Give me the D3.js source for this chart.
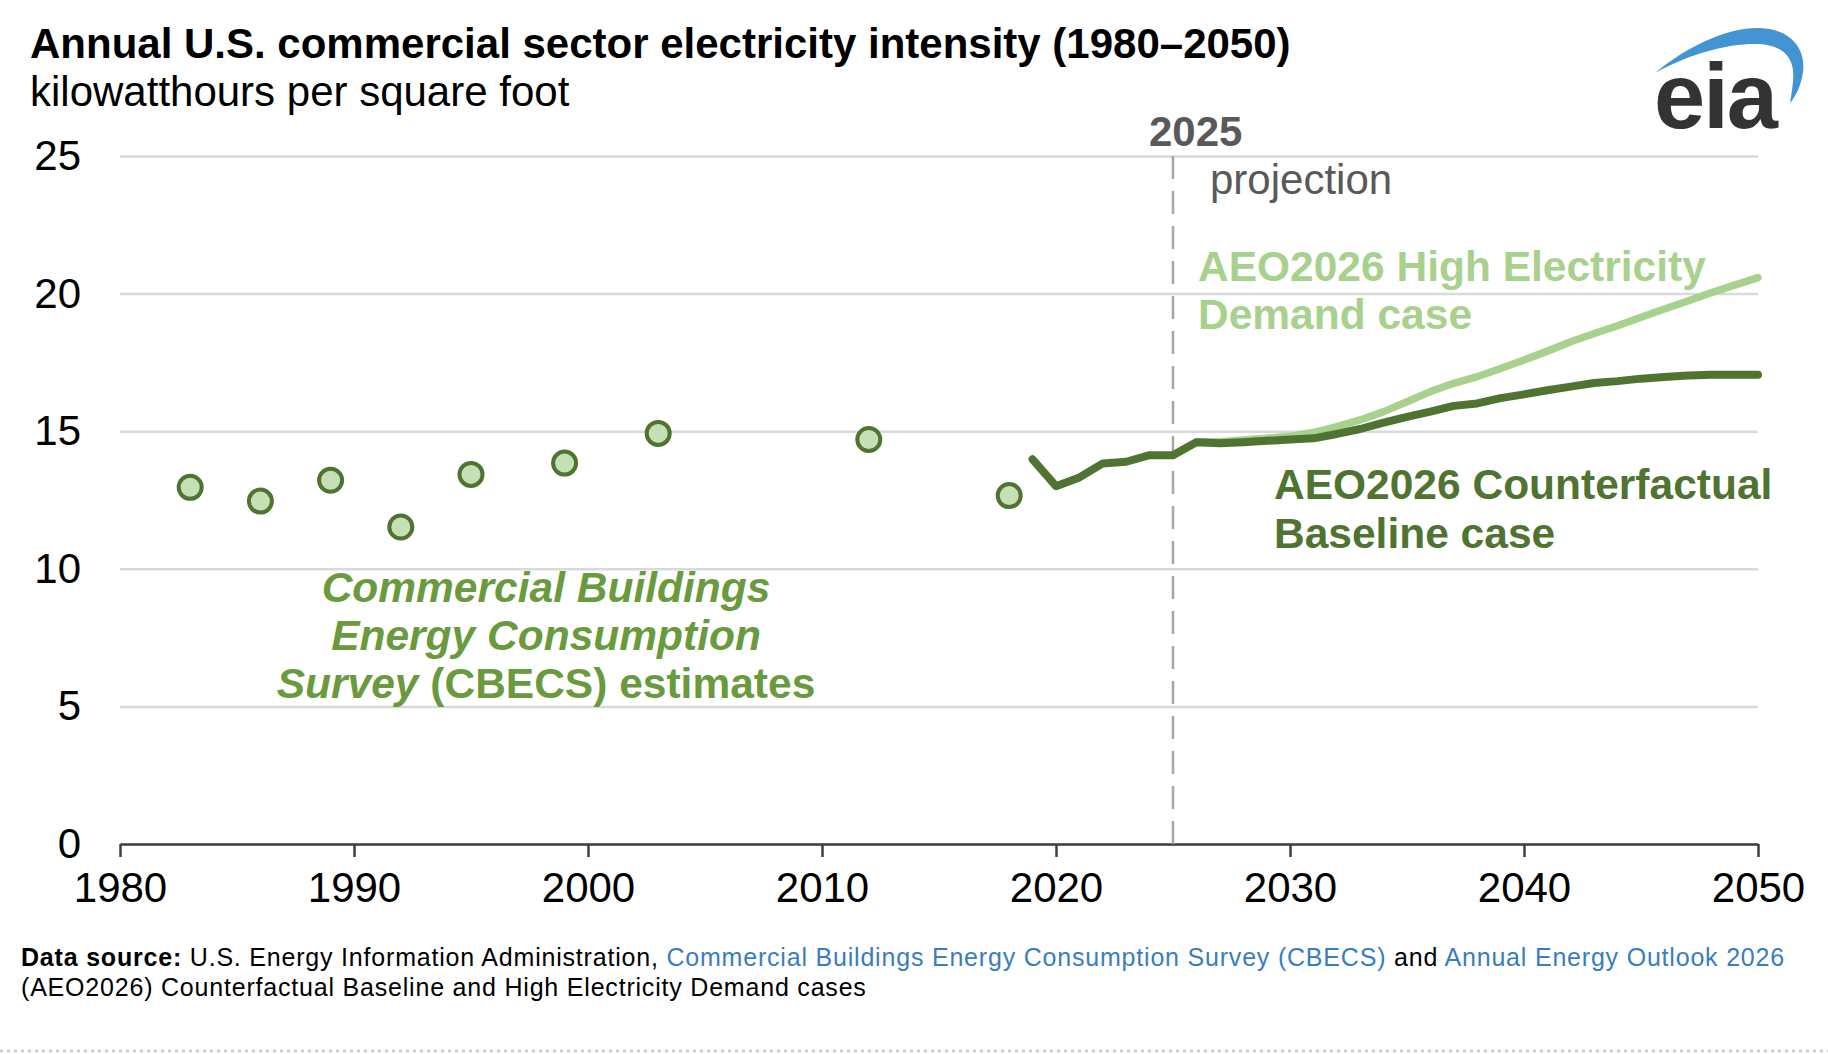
<!DOCTYPE html>
<html>
<head>
<meta charset="utf-8">
<script src="https://cdn.jsdelivr.net/npm/d3@7"></script>
<style>
  body { margin: 0; background: #fff; }
  svg { display: block; font-family: "Liberation Sans", Arial, sans-serif; }
</style>
</head>
<body>
<div id="chart"></div>
<script>
// CBECS survey estimates (points)
var cbecsYears  = [1983, 1986, 1989, 1992, 1995, 1999, 2003, 2012, 2018];
var cbecsValues = [12.96, 12.46, 13.22, 11.52, 13.43, 13.84, 14.92, 14.70, 12.66];

// AEO2026 Counterfactual Baseline case, 2019-2050
var baseYears  = d3.range(2019, 2051);
var baseValues = [13.98, 13.00, 13.32, 13.83, 13.89, 14.13, 14.13, 14.60, 14.56, 14.60,
                  14.65, 14.70, 14.74, 14.90, 15.08, 15.31, 15.52, 15.71, 15.92, 16.01,
                  16.20, 16.34, 16.49, 16.62, 16.75, 16.82, 16.91, 16.97, 17.02, 17.05,
                  17.05, 17.05];

// AEO2026 High Electricity Demand case, 2025-2050
var highYears  = d3.range(2025, 2051);
var highValues = [14.13, 14.62, 14.62, 14.68, 14.74, 14.82, 14.95, 15.17, 15.41, 15.71,
                  16.07, 16.44, 16.74, 16.98, 17.28, 17.59, 17.91, 18.25, 18.55, 18.83,
                  19.14, 19.44, 19.73, 20.03, 20.31, 20.58];

var xTicks = [1980, 1990, 2000, 2010, 2020, 2030, 2040, 2050];
var yTicks = [0, 5, 10, 15, 20, 25];
var projectionYear = 2025;

var W = 1828, H = 1054;
var margin = {top: 156, right: 70, bottom: 210, left: 120};
var width = W - margin.left - margin.right,
    height = H - margin.top - margin.bottom;

var svg = d3.select("#chart").append("svg")
    .attr("width", W)
    .attr("height", H);

// title + units
svg.append("text")
    .attr("x", 30).attr("y", 58)
    .style("font-size", "42px").style("font-weight", "bold").attr("fill", "#000")
    .text("Annual U.S. commercial sector electricity intensity (1980\u20132050)");
svg.append("text")
    .attr("x", 30).attr("y", 106)
    .style("font-size", "42px").attr("fill", "#000")
    .text("kilowatthours per square foot");

// eia logo
var logo = svg.append("g");
logo.append("path")
    .attr("d", "M1655,73 C1690,44 1730,27 1760,28 C1792,29 1806,50 1803,72 C1801,86 1796,96 1790,103 C1792,90 1794,80 1793,70 C1791,54 1779,44 1755,44 C1725,44 1690,54 1655,73 Z")
    .attr("fill", "#4394d3");
logo.append("text")
    .attr("x", 1654).attr("y", 128)
    .style("font-size", "92px").style("font-weight", "bold")
    .style("letter-spacing", "-2px")
    .attr("fill", "#333")
    .text("eia");

var g = svg.append("g")
    .attr("transform", "translate(" + margin.left + "," + margin.top + ")");

var x = d3.scaleLinear().domain([1980, 2050]).range([0, width]);
var y = d3.scaleLinear().domain([0, 25]).range([height, 0]);

// y axis with gridlines
var yAxis = g.append("g")
    .call(d3.axisLeft(y).tickValues(yTicks).tickSize(-width).tickPadding(39));
yAxis.select(".domain").remove();
yAxis.selectAll(".tick line").attr("stroke", "#d9d9d9").attr("stroke-width", 2.5);
yAxis.selectAll(".tick text")
    .style("font-size", "42px").attr("fill", "#000")
    .style("font-family", "'Liberation Sans', Arial, sans-serif");

// x axis
var xAxis = g.append("g")
    .attr("transform", "translate(0," + height + ")")
    .call(d3.axisBottom(x).tickValues(xTicks).tickFormat(d3.format("d")).tickSize(13).tickSizeOuter(0).tickPadding(15));
xAxis.select(".domain").attr("stroke", "#404040").attr("stroke-width", 2.5);
xAxis.selectAll(".tick line").attr("stroke", "#404040").attr("stroke-width", 2.5);
xAxis.selectAll(".tick text")
    .style("font-size", "42px").attr("fill", "#000")
    .style("font-family", "'Liberation Sans', Arial, sans-serif");

// projection divider
g.append("line")
    .attr("x1", x(projectionYear)).attr("x2", x(projectionYear))
    .attr("y1", y(25)).attr("y2", y(0))
    .attr("stroke", "#a6a6a6").attr("stroke-width", 2.5)
    .attr("stroke-dasharray", "23,12");
g.append("text")
    .attr("x", x(projectionYear) - 24).attr("y", 146 - margin.top)
    .style("font-size", "42px").style("font-weight", "bold").attr("fill", "#595959")
    .text("2025");
g.append("text")
    .attr("x", x(projectionYear) + 37).attr("y", 194 - margin.top)
    .style("font-size", "42px").attr("fill", "#595959")
    .text("projection");

var line = d3.line()
    .x(function(d) { return x(d[0]); })
    .y(function(d) { return y(d[1]); });

g.append("path")
    .datum(d3.zip(highYears, highValues))
    .attr("d", line)
    .attr("fill", "none")
    .attr("stroke", "#a9d18e").attr("stroke-width", 7.5)
    .attr("stroke-linecap", "round").attr("stroke-linejoin", "round");

g.append("path")
    .datum(d3.zip(baseYears, baseValues))
    .attr("d", line)
    .attr("fill", "none")
    .attr("stroke", "#4f7331").attr("stroke-width", 8)
    .attr("stroke-linecap", "round").attr("stroke-linejoin", "round");

// survey points
g.append("g")
  .selectAll("circle")
  .data(d3.zip(cbecsYears, cbecsValues))
  .enter()
  .append("circle")
    .attr("cx", function(d) { return x(d[0]); })
    .attr("cy", function(d) { return y(d[1]); })
    .attr("r", 11.5)
    .attr("fill", "#c5e0b4")
    .attr("stroke", "#4f7331")
    .attr("stroke-width", 4);

// series labels
var hi = g.append("text")
    .style("font-size", "42.5px").style("font-weight", "bold").attr("fill", "#a9d18e");
hi.append("tspan").attr("x", 1198 - margin.left).attr("y", 281 - margin.top).text("AEO2026 High Electricity");
hi.append("tspan").attr("x", 1198 - margin.left).attr("y", 329 - margin.top).text("Demand case");

var base = g.append("text")
    .style("font-size", "42.5px").style("font-weight", "bold").attr("fill", "#4f7331");
base.append("tspan").attr("x", 1274 - margin.left).attr("y", 499 - margin.top).text("AEO2026 Counterfactual");
base.append("tspan").attr("x", 1274 - margin.left).attr("y", 548 - margin.top).text("Baseline case");

var cb = g.append("text")
    .attr("text-anchor", "middle")
    .style("font-size", "42.5px").style("font-weight", "bold").attr("fill", "#6a9a3e");
cb.append("tspan").attr("x", 546 - margin.left).attr("y", 602 - margin.top)
    .style("font-style", "italic").text("Commercial Buildings");
cb.append("tspan").attr("x", 546 - margin.left).attr("y", 650 - margin.top)
    .style("font-style", "italic").text("Energy Consumption");
var l3 = cb.append("tspan").attr("x", 546 - margin.left).attr("y", 698 - margin.top);
l3.append("tspan").style("font-style", "italic").text("Survey");
l3.append("tspan").text(" (CBECS) estimates");

// source note
var src = svg.append("text")
    .attr("x", 21).attr("y", 966)
    .style("font-size", "25px").style("letter-spacing", "0.8px").attr("fill", "#000");
src.append("tspan").style("font-weight", "bold").text("Data source:");
src.append("tspan").text(" U.S. Energy Information Administration, ");
src.append("tspan").attr("fill", "#3a7dbf").text("Commercial Buildings Energy Consumption Survey (CBECS)");
src.append("tspan").text(" and ");
src.append("tspan").attr("fill", "#3a7dbf").text("Annual Energy Outlook 2026");
svg.append("text")
    .attr("x", 21).attr("y", 996)
    .style("font-size", "25px").style("letter-spacing", "0.8px").attr("fill", "#000")
    .text("(AEO2026) Counterfactual Baseline and High Electricity Demand cases");

// dotted rule at bottom
svg.append("line")
    .attr("x1", 0).attr("x2", W)
    .attr("y1", 1051).attr("y2", 1051)
    .attr("stroke", "#c8c8c8").attr("stroke-width", 2.5)
    .attr("stroke-dasharray", "3,4");
</script>
</body>
</html>
